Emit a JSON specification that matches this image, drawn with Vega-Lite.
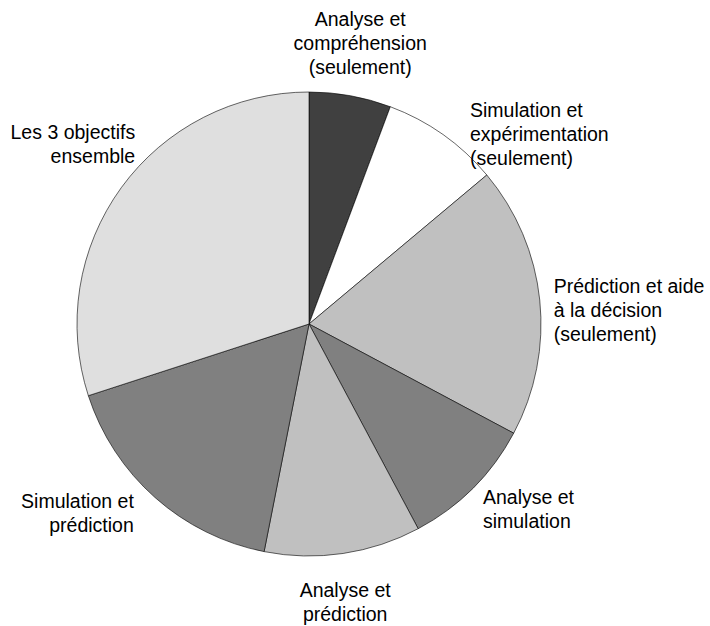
{
  "$schema": "https://vega.github.io/schema/vega-lite/v6.json",
  "width": 464,
  "height": 464,
  "autosize": {"type": "none"},
  "padding": {"left": 77, "top": 92, "right": 169, "bottom": 70},
  "background": "white",
  "view": {"stroke": null},
  "data": {
    "values": [
      {"o": 1, "cat": "Analyse  et\ncompréhension\n (seulement)", "v": 5.7},
      {"o": 2, "cat": "Simulation et\nexpérimentation\n(seulement)", "v": 8.2},
      {"o": 3, "cat": "Prédiction et aide\nà la décision\n(seulement)", "v": 18.9},
      {"o": 4, "cat": "Analyse et\nsimulation", "v": 9.4},
      {"o": 5, "cat": "Analyse et\nprédiction", "v": 10.9},
      {"o": 6, "cat": "Simulation et \nprédiction", "v": 16.9},
      {"o": 7, "cat": "Les 3 objectifs\nensemble", "v": 30.0}
    ]
  },
  "encoding": {
    "theta": {"field": "v", "type": "quantitative", "stack": true},
    "order": {"field": "o", "type": "quantitative"}
  },
  "layer": [
    {
      "mark": {"type": "arc", "stroke": "#000000", "strokeWidth": 0.6},
      "encoding": {
        "color": {
          "field": "o",
          "type": "nominal",
          "sort": null,
          "legend": null,
          "scale": {
            "domain": [1, 2, 3, 4, 5, 6, 7],
            "range": ["#404040", "#ffffff", "#c0c0c0", "#808080", "#c0c0c0", "#808080", "#dfdfdf"]
          }
        }
      }
    },
    {
      "mark": {
        "type": "text",
        "radius": 246,
        "lineBreak": "\n",
        "font": "Liberation Sans",
        "fontSize": 19.5,
        "lineHeight": 24,
        "color": "#000000",
        "baseline": "middle",
        "align": {"expr": "sin((datum.v_start + datum.v_end) / 100 * PI) > 0.3 ? 'left' : (sin((datum.v_start + datum.v_end) / 100 * PI) < -0.3 ? 'right' : 'center')"},
        "dx": {"expr": "53 * max(0, -sin((datum.v_start + datum.v_end) / 100 * PI)) * max(0, cos((datum.v_start + datum.v_end) / 100 * PI)) + 53 * max(0, sin((datum.v_start + datum.v_end) / 100 * PI)) * max(0, cos((datum.v_start + datum.v_end) / 100 * PI) - 0.2) - 24 * max(0, -sin((datum.v_start + datum.v_end) / 100 * PI)) * max(0, -cos((datum.v_start + datum.v_end) / 100 * PI))"},
        "dy": {"expr": "cos((datum.v_start + datum.v_end) / 100 * PI) > 0.9 ? -(length(split(datum.cat, '\\n')) - 0.4) * 24 : (cos((datum.v_start + datum.v_end) / 100 * PI) < -0.9 ? 24 : -(length(split(datum.cat, '\\n')) - 1) * 6 - 84 * max(0, -sin((datum.v_start + datum.v_end) / 100 * PI)) * max(0, cos((datum.v_start + datum.v_end) / 100 * PI)) + 12 * max(0, sin((datum.v_start + datum.v_end) / 100 * PI)) * max(0, -cos((datum.v_start + datum.v_end) / 100 * PI)))"}
      },
      "encoding": {
        "text": {"field": "cat", "type": "nominal"}
      }
    }
  ]
}
